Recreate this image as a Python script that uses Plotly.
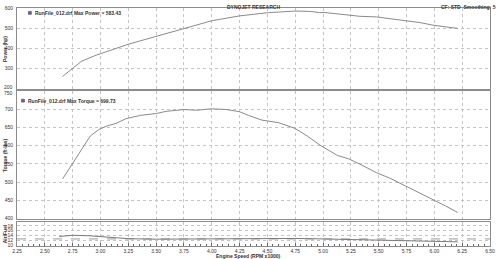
import plotly.graph_objects as go

# ---- data ----
rpm_power = [2.66, 2.75, 2.83, 2.97, 3.00, 3.25, 3.50, 3.75, 4.00, 4.25, 4.33, 4.51, 4.60, 4.75,
             4.89, 4.97, 5.01, 5.22, 5.33, 5.48, 5.57, 5.72, 5.87, 5.99, 6.10, 6.21]
power_hp = [262, 304, 337, 369, 374, 421, 459, 499, 537, 561, 567, 577, 580, 585,
            583, 577, 578, 567, 559, 556, 550, 540, 528, 515, 506, 499]

rpm_torque = [2.66, 2.75, 2.83, 2.91, 2.99, 3.06, 3.14, 3.23, 3.36, 3.50, 3.59, 3.75, 3.86, 4.00,
              4.13, 4.25, 4.33, 4.45, 4.60, 4.75, 4.86, 4.98, 5.13, 5.23, 5.34, 5.48, 5.60,
              5.72, 5.87, 5.99, 6.10, 6.21]
torque_ftlb = [509, 551, 591, 627, 645, 654, 661, 674, 683, 688, 694, 699, 697, 701,
               699, 693, 683, 670, 663, 647, 626, 600, 573, 564, 548, 526, 511,
               493, 470, 452, 435, 417]

rpm_afr = [2.63, 2.75, 2.90, 3.00, 3.10, 3.25, 3.50, 3.75, 4.00, 4.25, 4.50, 4.75,
           5.00, 5.25, 5.50, 5.75, 6.00, 6.21]
afr = [13.6, 14.1, 13.9, 13.6, 13.2, 12.7, 12.5, 12.6, 12.7, 12.7, 12.9, 12.8,
       12.6, 12.3, 12.1, 11.8, 11.6, 11.4]
rpm_afr_ref = [2.25, 6.50]
afr_ref = [12.6, 12.6]

x_ticks = [2.25, 2.50, 2.75, 3.00, 3.25, 3.50, 3.75, 4.00, 4.25, 4.50, 4.75, 5.00,
           5.25, 5.50, 5.75, 6.00, 6.25, 6.50]
x_ticklabels = ["%.2f" % v for v in x_ticks]
power_ticks = [200, 300, 400, 500, 600]
torque_ticks = [400, 450, 500, 550, 600, 650, 700, 750]
afr_ticks = [10, 12, 14, 16, 18]

title = "DYNOJET RESEARCH"
corner_text = "CF: STD  Smoothing: 5"
power_legend = "RunFile_012.drf Max Power = 583.43"
torque_legend = "RunFile_012.drf Max Torque = 699.73"

# ---- figure ----
W, H = 500, 259
FONT = "Liberation Sans"
grid = "#c4c4c4"
border = "#8c8c8c"
curve = "#8a8a8a"
txtc = "#333"

fig = go.Figure()
fig.add_trace(go.Scatter(x=rpm_power, y=power_hp, mode="lines", line=dict(color=curve, width=1),
                         xaxis="x", yaxis="y", showlegend=False))
fig.add_trace(go.Scatter(x=rpm_torque, y=torque_ftlb, mode="lines", line=dict(color=curve, width=1),
                         xaxis="x2", yaxis="y2", showlegend=False))
fig.add_trace(go.Scatter(x=rpm_afr_ref, y=afr_ref, mode="lines",
                         line=dict(color="#9a9a9a", width=1, dash="dash"),
                         xaxis="x3", yaxis="y3", showlegend=False))
fig.add_trace(go.Scatter(x=rpm_afr, y=afr, mode="lines", line=dict(color="#7a7a7a", width=1),
                         xaxis="x3", yaxis="y3", showlegend=False))

tickfont = dict(family=FONT, size=5, color=txtc)

def xax(show_labels, anchor):
    d = dict(range=[2.25, 6.5], tickvals=x_ticks, ticktext=x_ticklabels,
             showgrid=True, gridcolor=grid, griddash="dot", gridwidth=1,
             showline=True, mirror=True, linecolor=border, linewidth=1,
             zeroline=False, anchor=anchor, domain=[0, 1],
             showticklabels=show_labels, tickfont=tickfont, ticks="", ticklen=0)
    if show_labels:
        d["minor"] = dict(ticks="inside", ticklen=2, tickcolor="#666", dtick=0.05, showgrid=False)
        d["ticks"] = "inside"
        d["ticklen"] = 3
        d["tickcolor"] = "#666"
    return d

def yax(rng, ticks, labels, dom, anchor):
    return dict(range=rng, tickvals=ticks, ticktext=labels, showgrid=True, gridcolor=grid,
                griddash="dot", gridwidth=1, showline=True, mirror=True, linecolor=border,
                linewidth=1, zeroline=False, domain=dom, anchor=anchor, tickfont=tickfont,
                ticks="", ticklabelstandoff=2)

# plot area: top=5, bottom=249 (244 px tall)
def dom(top_px, bot_px):
    return [(249 - bot_px) / 244, (249 - top_px) / 244]

# edge labels that would collide (drawn separately, nudged apart)
power_labels = ["" if v == power_ticks[0] else str(v) for v in power_ticks]
torque_labels = ["" if v == torque_ticks[-1] else str(v) for v in torque_ticks]

fig.update_layout(
    width=W, height=H,
    margin=dict(l=15, r=8, t=5, b=10),
    paper_bgcolor="white", plot_bgcolor="white",
    xaxis=xax(False, "y"),
    xaxis2=xax(False, "y2"),
    xaxis3=xax(True, "y3"),
    yaxis=yax([200, 600], power_ticks, power_labels, dom(5, 88), "x"),
    yaxis2=yax([400, 750], torque_ticks, torque_labels, dom(90, 221), "x2"),
    yaxis3=yax([9.7, 19.7], afr_ticks, [str(v) for v in afr_ticks], dom(224, 249), "x3"),
    font=dict(family=FONT, size=5, color=txtc),
)

ann = []
ann.append(dict(text="<b>" + title + "</b>", xref="paper", yref="paper", x=0.5, y=1.0,
                yshift=6, xanchor="center", yanchor="top", showarrow=False,
                font=dict(family=FONT, size=5, color=txtc)))
ann.append(dict(text="<b>" + corner_text + "</b>", xref="paper", yref="paper", x=1.0, y=1.0,
                xshift=8, yshift=6, xanchor="right", yanchor="top", showarrow=False,
                font=dict(family=FONT, size=5, color=txtc)))
ann.append(dict(text="<b>Engine Speed (RPM x1000)</b>", xref="paper", yref="paper", x=0.49, y=0,
                yshift=-5, xanchor="center", yanchor="top", showarrow=False,
                font=dict(family=FONT, size=5, color=txtc)))
# nudged edge tick labels
ann.append(dict(text=str(power_ticks[0]), xref="paper", yref="paper", x=0, xshift=-2,
                y=(249 - 85.5) / 244, xanchor="right", yanchor="middle", showarrow=False,
                font=tickfont))
ann.append(dict(text=str(torque_ticks[-1]), xref="paper", yref="paper", x=0, xshift=-2,
                y=(249 - 92.5) / 244, xanchor="right", yanchor="middle", showarrow=False,
                font=tickfont))
# y-axis titles
for txt, ypx in [("Power (hp)", 47), ("Torque (ft-lbs)", 156), ("Air/Fuel", 237)]:
    ann.append(dict(text="<b>" + txt + "</b>", xref="paper", yref="paper", x=0, xshift=-12,
                    y=(249 - ypx) / 244, textangle=-90, xanchor="center", yanchor="middle",
                    showarrow=False, font=dict(family=FONT, size=5, color=txtc)))
# legends
ann.append(dict(text="<b>" + power_legend + "</b>", xref="paper", yref="paper",
                x=(31 - 15) / 477, y=(249 - 10) / 244, xanchor="left", yanchor="middle",
                showarrow=False, font=dict(family=FONT, size=5, color=txtc)))
ann.append(dict(text="<b>" + torque_legend + "</b>", xref="paper", yref="paper",
                x=(24 - 15) / 477, y=(249 - 100) / 244, xanchor="left", yanchor="middle",
                showarrow=False, font=dict(family=FONT, size=5, color=txtc)))
fig.update_layout(annotations=ann)

shapes = []
for xpx, ypx in [(28, 10), (21, 100)]:
    shapes.append(dict(type="rect", xref="paper", yref="paper",
                       x0=(xpx - 1.5 - 15) / 477, x1=(xpx + 1.5 - 15) / 477,
                       y0=(249 - ypx - 1.5) / 244, y1=(249 - ypx + 1.5) / 244,
                       line=dict(color="#333", width=0.5), fillcolor="#6a6aa0"))
fig.update_layout(shapes=shapes)

fig.write_html("out.html")
